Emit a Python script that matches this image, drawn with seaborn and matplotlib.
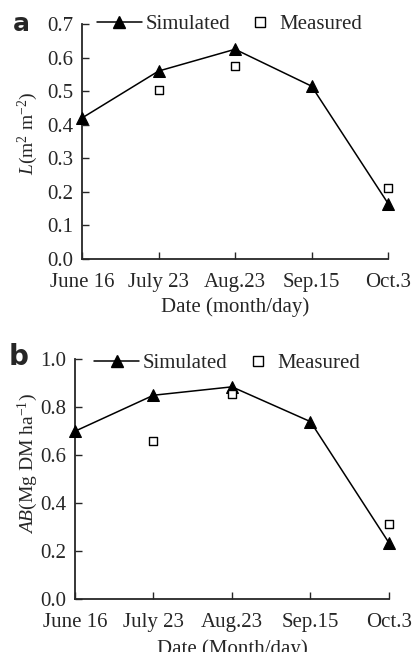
import numpy as np
import pandas as pd
import matplotlib
matplotlib.use("Agg")
import matplotlib.pyplot as plt
from matplotlib.lines import Line2D
import seaborn as sns

dates = ["June 16", "July 23", "Aug.23", "Sep.15", "Oct.3"]

lai_sim = [0.42, 0.56, 0.625, 0.515, 0.165]
lai_meas = [np.nan, 0.505, 0.575, np.nan, 0.21]

ab_sim = [0.70, 0.85, 0.885, 0.74, 0.235]
ab_meas = [np.nan, 0.66, 0.855, np.nan, 0.315]

sns.set_style("ticks")
plt.rcParams["font.family"] = ["Liberation Serif", "DejaVu Serif"]
plt.rcParams["mathtext.fontset"] = "custom"
plt.rcParams["mathtext.rm"] = "Liberation Serif"
plt.rcParams["mathtext.it"] = "Liberation Serif:italic"
plt.rcParams["xtick.direction"] = "in"
plt.rcParams["ytick.direction"] = "in"

FS = 15

fig = plt.figure(figsize=(4.12, 6.52), dpi=100)
ax_a = fig.add_axes([0.199, 0.603, 0.743, 0.360])
ax_b = fig.add_axes([0.182, 0.081, 0.762, 0.368])


def draw_panel(ax, sim, meas, ymax, ystep, ylabel, xlabel, ylab_pos,
               leg_y, sim_x, meas_x):
    df = pd.DataFrame({"x": range(len(dates)), "sim": sim, "meas": meas})
    sns.lineplot(data=df, x="x", y="sim", ax=ax, color="black", lw=1.1,
                 marker="^", markersize=9, markeredgecolor="black",
                 legend=False, clip_on=False, zorder=3)
    dm = df.dropna()
    sns.scatterplot(data=dm, x="x", y="meas", ax=ax, marker="s", s=40,
                    facecolor="white", edgecolor="black", linewidth=1.0,
                    legend=False, clip_on=False, zorder=4)
    ax.set_xlim(0, len(dates) - 1)
    ax.set_ylim(0, ymax)
    ax.set_xticks(range(len(dates)))
    ax.set_xticklabels(dates)
    ax.set_yticks(np.arange(0, ymax + 1e-9, ystep))
    ax.yaxis.set_major_formatter(matplotlib.ticker.FormatStrFormatter("%.1f"))
    ax.tick_params(labelsize=FS, length=5, width=1)
    ax.tick_params(axis="x", pad=10)
    ax.tick_params(axis="y", pad=6)
    sns.despine(ax=ax)
    for s in ["left", "bottom"]:
        ax.spines[s].set_linewidth(1.3)
    ax.set_xlabel(xlabel, fontsize=FS)
    ax.set_ylabel(ylabel, fontsize=14)
    ax.xaxis.set_label_coords(0.5, -0.165)
    ax.yaxis.set_label_coords(*ylab_pos)

    h_sim = Line2D([], [], color="black", lw=1.1, marker="^", markersize=8)
    h_meas = Line2D([], [], ls="none", marker="s", markersize=6.5,
                    markerfacecolor="white", markeredgecolor="black", mew=1.0)
    leg1 = ax.legend([h_sim], ["Simulated"], loc="center left",
                     bbox_to_anchor=(sim_x, leg_y), frameon=False, fontsize=FS,
                     handlelength=2.15, handletextpad=0.2, borderpad=0,
                     borderaxespad=0)
    ax.add_artist(leg1)
    ax.legend([h_meas], ["Measured"], loc="center left",
              bbox_to_anchor=(meas_x, leg_y), frameon=False, fontsize=FS,
              handlelength=1.0, handletextpad=0.4, borderpad=0,
              borderaxespad=0)


draw_panel(ax_a, lai_sim, lai_meas, 0.7, 0.1,
           r"$L$(m$^2$ m$^{-2}$)", "Date (month/day)", (-0.137, 0.536),
           1.0, 0.049, 0.549)
draw_panel(ax_b, ab_sim, ab_meas, 1.0, 0.2,
           r"$AB$(Mg DM ha$^{-1}$)", "Date (Month/day)", (-0.111, 0.567),
           0.983, 0.061, 0.551)

fig.text(21 / 412, 1 - 24 / 652, "a", fontsize=18, fontweight="bold",
         family="DejaVu Sans", ha="center", va="center")
fig.text(19 / 412, 1 - 357 / 652, "b", fontsize=20, fontweight="bold",
         family="DejaVu Sans", ha="center", va="center")

fig.savefig("out.png", dpi=100)
